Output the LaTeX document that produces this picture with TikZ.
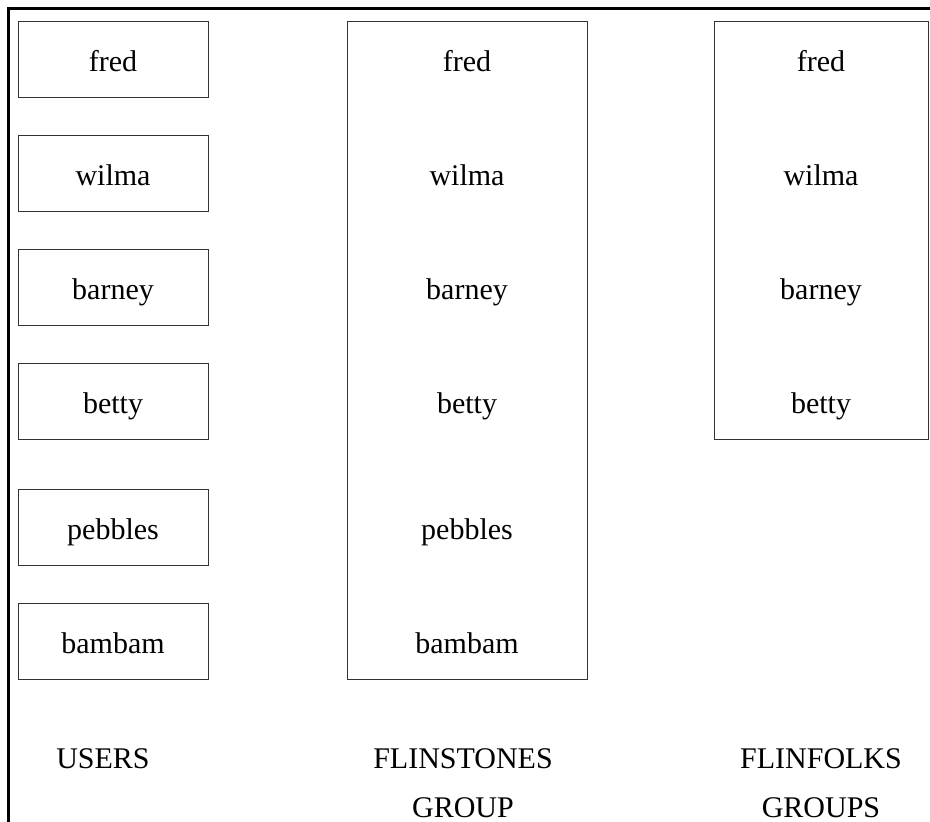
\documentclass[tikz,border=0pt]{standalone}
\usepackage{fontspec}
\setmainfont{Liberation Serif}
\usepackage{tikz}

\begin{document}
\begin{tikzpicture}[x=1pt, y=-1pt,
                        every node/.style={font=\fontsize{30}{49}\selectfont, text=black},
                        userbox/.style={rectangle, draw=black!80, line width=1pt, minimum width=190pt, minimum height=76pt, text height=25pt, text depth=0pt},
                        groupbox/.style={rectangle, draw=black!80, line width=1pt},
                        member/.style={text height=25pt, text depth=0pt},
                        caption/.style={align=center, inner sep=0pt, anchor=north}]

                        \useasboundingbox (0,0) rectangle (930,822);
                        % Frame
                        \draw[line width=3pt] (8,822) -- (8,8) -- (930,8);

                        % Users
                        \node[userbox] (U1) at (113,59) {fred};
                        \node[userbox] (U2) at (113,173) {wilma};
                        \node[userbox] (U3) at (113,287) {barney};
                        \node[userbox] (U4) at (113,401) {betty};
                        \node[userbox] (U5) at (113,527) {pebbles};
                        \node[userbox] (U6) at (113,641) {bambam};

                        % Flinstones group
                        \node[groupbox, minimum width=240pt, minimum height=658pt] (F) at (467,350) {};
                        \node[member] (F1) at (467,59) {fred};
                        \node[member] (F2) at (467,173) {wilma};
                        \node[member] (F3) at (467,287) {barney};
                        \node[member] (F4) at (467,401) {betty};
                        \node[member] (F5) at (467,527) {pebbles};
                        \node[member] (F6) at (467,641) {bambam};

                        % Flinfolks groups
                        \node[groupbox, minimum width=214pt, minimum height=418pt] (K) at (821,230) {};
                        \node[member] (K1) at (821,59) {fred};
                        \node[member] (K2) at (821,173) {wilma};
                        \node[member] (K3) at (821,287) {barney};
                        \node[member] (K4) at (821,401) {betty};

                        % Captions
                        \node[caption] (UL) at (103,748) {USERS};
                        \node[caption] (FL) at (463,748) {FLINSTONES\\GROUP};
                        \node[caption] (KL) at (821,748) {FLINFOLKS\\GROUPS};
                    \end{tikzpicture}
\end{document}
